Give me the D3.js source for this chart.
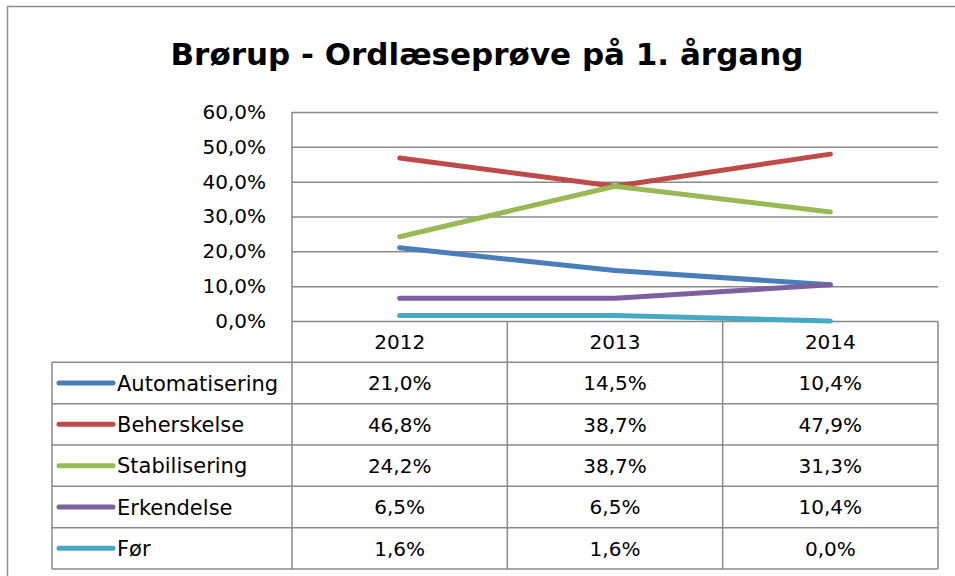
<!DOCTYPE html>
<html>
<head>
<meta charset="utf-8">
<script src="https://cdn.jsdelivr.net/npm/d3@7"></script>
<style>
  body { margin: 0; background: #fff; }
  svg { display: block; font-family: "DejaVu Sans", sans-serif; }
</style>
</head>
<body>
<svg id="chart" width="955" height="576"></svg>
<script>
const years = ['2012', '2013', '2014'];
const seriesNames = ['Automatisering', 'Beherskelse', 'Stabilisering', 'Erkendelse', 'Før'];
const automatisering = [0.210, 0.145, 0.104];
const beherskelse = [0.468, 0.387, 0.479];
const stabilisering = [0.242, 0.387, 0.313];
const erkendelse = [0.065, 0.065, 0.104];
const foer = [0.016, 0.016, 0.000];
const colors = ['#4a7ebb', '#be4b48', '#98b954', '#7d60a0', '#46aac5'];
const yTicks = [0, 0.1, 0.2, 0.3, 0.4, 0.5, 0.6];

const seriesValues = [automatisering, beherskelse, stabilisering, erkendelse, foer];
const series = seriesNames.map((name, i) => ({ name, color: colors[i], values: seriesValues[i] }));

const locale = d3.formatLocale({ decimal: ',', thousands: '.', grouping: [3], currency: ['', ' kr'] });
const pct = locale.format('.1%');

const svg = d3.select('#chart');
const gridColor = '#898989';

// outer chart frame (runs off the right and bottom edges)
svg.append('rect')
    .attr('x', 7.5).attr('y', 6.5)
    .attr('width', 1000).attr('height', 1000)
    .attr('fill', '#fff')
    .attr('stroke', '#8e8e8e')
    .attr('stroke-width', 1.5);

svg.append('text')
    .attr('x', 487)
    .attr('y', 65)
    .attr('text-anchor', 'middle')
    .attr('font-weight', 'bold')
    .attr('font-size', 31)
    .attr('fill', '#000')
    .text('Brørup - Ordlæseprøve på 1. årgang');

const plotLeft = 292, plotRight = 938, plotTop = 112, plotBottom = 321;
const tableLeft = 52, tableBottom = 569;
const rowH = (tableBottom - plotBottom) / (seriesNames.length + 1);

const x = d3.scaleBand().domain(years).range([plotLeft, plotRight]);
const y = d3.scaleLinear().domain([0, 0.6]).range([plotBottom, plotTop]);
const cx = d => x(d) + x.bandwidth() / 2;

// gridlines + tick labels
const yAxis = svg.append('g')
    .attr('transform', `translate(${plotLeft},0)`)
    .call(d3.axisLeft(y)
        .tickValues(yTicks)
        .tickFormat(pct)
        .tickSizeInner(-(plotRight - plotLeft))
        .tickSizeOuter(0)
        .tickPadding(26));
yAxis.select('.domain').remove();
yAxis.selectAll('.tick line')
    .attr('stroke', gridColor)
    .attr('stroke-width', 1.5);
yAxis.selectAll('.tick text')
    .attr('font-size', 20)
    .attr('font-family', '"DejaVu Sans", sans-serif')
    .attr('fill', '#000');

// data table grid
const grid = svg.append('g')
    .attr('stroke', gridColor)
    .attr('stroke-width', 1.5)
    .attr('fill', 'none');

// left axis line down through the table
grid.append('line')
    .attr('x1', plotLeft).attr('x2', plotLeft)
    .attr('y1', plotTop).attr('y2', tableBottom);

// column separators and right edge
years.slice(1).concat(['end']).forEach(d => {
    const xx = d === 'end' ? plotRight : x(d);
    grid.append('line')
        .attr('x1', xx).attr('x2', xx)
        .attr('y1', plotBottom).attr('y2', tableBottom);
});

// row lines
d3.range(1, seriesNames.length + 2).forEach(i => {
    grid.append('line')
        .attr('x1', tableLeft).attr('x2', plotRight)
        .attr('y1', plotBottom + i * rowH).attr('y2', plotBottom + i * rowH);
});
grid.append('line')
    .attr('x1', tableLeft).attr('x2', tableLeft)
    .attr('y1', plotBottom + rowH).attr('y2', tableBottom);

// header row
svg.append('g').selectAll('text')
    .data(years)
    .join('text')
    .attr('x', d => cx(d))
    .attr('y', plotBottom + rowH / 2)
    .attr('dy', '0.36em')
    .attr('text-anchor', 'middle')
    .attr('font-size', 20)
    .text(d => d);

// lines
const line = d3.line()
    .x((v, i) => cx(years[i]))
    .y(v => y(v));

svg.append('g').selectAll('path')
    .data(series)
    .join('path')
    .attr('d', d => line(d.values))
    .attr('fill', 'none')
    .attr('stroke', d => d.color)
    .attr('stroke-width', 5)
    .attr('stroke-linecap', 'round')
    .attr('stroke-linejoin', 'round');

// table rows
const rows = svg.append('g').selectAll('g')
    .data(series)
    .join('g')
    .attr('transform', (d, i) => `translate(0,${plotBottom + (i + 1.5) * rowH})`);

rows.append('line')
    .attr('x1', 59).attr('x2', 113)
    .attr('stroke', d => d.color)
    .attr('stroke-width', 5)
    .attr('stroke-linecap', 'round');

rows.append('text')
    .attr('x', 117)
    .attr('dy', '0.36em')
    .attr('font-size', 21)
    .text(d => d.name);

rows.selectAll('text.val')
    .data(d => d.values)
    .join('text')
    .attr('class', 'val')
    .attr('x', (v, i) => cx(years[i]))
    .attr('dy', '0.36em')
    .attr('text-anchor', 'middle')
    .attr('font-size', 20)
    .text(v => pct(v));
</script>
</body>
</html>
